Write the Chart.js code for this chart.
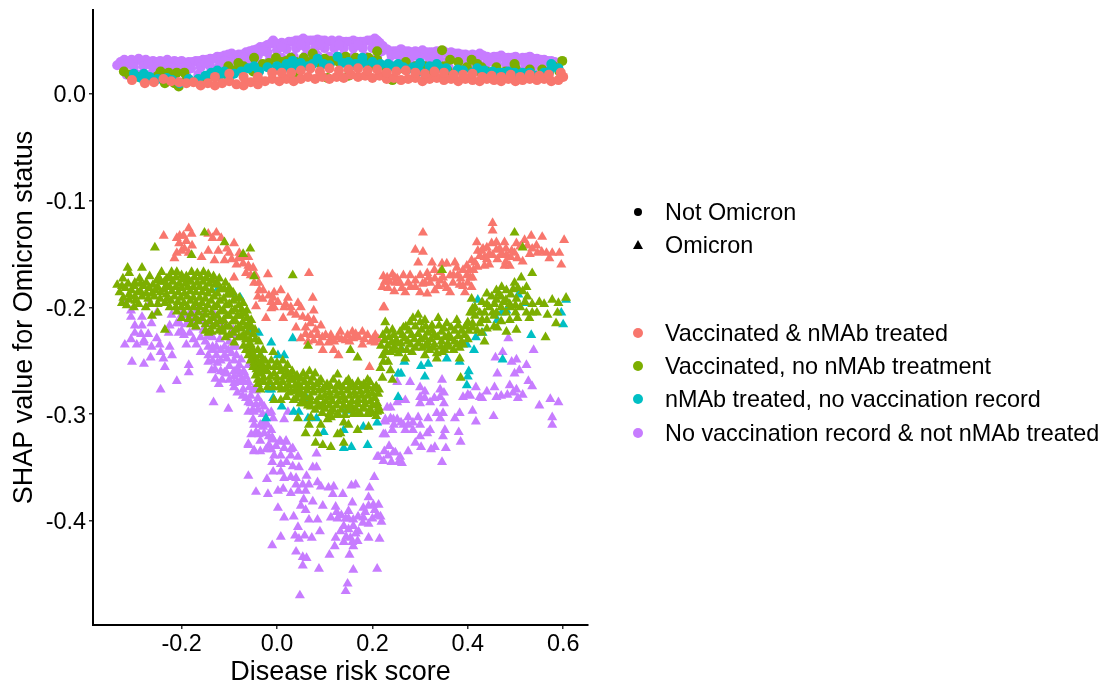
<!DOCTYPE html>
<html><head><meta charset="utf-8">
<script src="https://cdn.jsdelivr.net/npm/chart.js@4"></script>
<style>
html,body{margin:0;padding:0;background:#fff;width:1101px;height:684px;overflow:hidden}
#wrap{position:relative;width:1101px;height:684px}
canvas{position:absolute;left:0;top:0}
.lg{position:absolute;left:665px;font:23.4px "Liberation Sans",Arial,sans-serif;color:#000;line-height:30px;height:30px;white-space:nowrap}
.mk{position:absolute}
</style></head><body>
<div id="wrap"><canvas id="c" width="1101" height="684"></canvas></div>
<script>
const xTicks=[-0.2,0,0.2,0.4,0.6];
const yTicks=[0,-0.1,-0.2,-0.3,-0.4];
const shapeLabels=["Not Omicron","Omicron"];
const groupLabels=["Vaccinated & nMAb treated","Vaccinated, no nMAb treatment","nMAb treated, no vaccination record","No vaccination record & not nMAb treated"];

const circPurple=[[-.335,.027],[-.32,.032],[-.305,.032],[-.29,.033],[-.275,.032],[-.26,.031],[-.245,.031],[-.23,.032],[-.215,.031],[-.2,.031],[-.185,.03],[-.17,.031],[-.155,.032],[-.14,.033],[-.125,.035],[-.11,.036],[-.095,.038],[-.08,.037],[-.065,.039],[-.05,.041],[-.035,.044],[-.02,.046],[-.008,.05],[.01,.048],[.025,.049],[.04,.05],[.055,.052],[.07,.05],[.085,.051],[.1,.05],[.115,.05],[.13,.05],[.145,.049],[.16,.05],[.175,.049],[.19,.05],[.205,.052],[.215,.048],[.23,.042],[.245,.04],[.26,.042],[.275,.04],[.29,.04],[.305,.041],[.32,.039],[.335,.04],[.35,.04],[.365,.039],[.38,.038],[.395,.037],[.41,.037],[.425,.038],[.44,.035],[.455,.035],[.47,.036],[.485,.034],[.5,.035],[.515,.034],[.53,.035],[.545,.033],[.56,.032],[.575,.031],[.59,.029],
[-.328,.03],[-.312,.03],[-.297,.031],[-.283,.031],[-.268,.03],[-.252,.03],[-.237,.03],[-.222,.03],[-.207,.03],[-.192,.029],[-.177,.03],[-.162,.031],[-.147,.032],[-.132,.033],[-.117,.035],[-.102,.037],[-.087,.036],[-.072,.037],[-.057,.04],[-.042,.042],[-.027,.044],[-.014,.047],[0,.047],[.017,.047],[.032,.049],[.047,.05],[.062,.05],[.077,.05],[.092,.05],[.107,.049],[.122,.049],[.137,.049],[.152,.049],[.167,.049],[.182,.049],[.197,.05],[.21,.05],[.222,.045],[.237,.04],[.252,.04],[.267,.04],[.282,.039],[.297,.039],[.312,.039],[.327,.039],[.342,.039],[.357,.038],[.372,.038],[.387,.037],[.402,.036],[.417,.036],[.432,.036],[.447,.034],[.462,.035],[.477,.034],[.492,.034],[.507,.033],[.522,.034],[.537,.033],[.552,.032],[.567,.031],[.582,.03],
[-.32,.026],[-.3,.025],[-.28,.026],[-.26,.025],[-.24,.024],[-.22,.025],[-.2,.024],[-.18,.024],[-.16,.025],[-.14,.026],[-.12,.027],[-.1,.03],[-.08,.03],[-.06,.033],[-.04,.036],[-.02,.039],[0,.041],[.02,.042],[.04,.043],[.06,.044],[.08,.043],[.1,.043],[.12,.043],[.14,.043],[.16,.043],[.18,.043],[.2,.043],[.22,.04],[.24,.036],[.26,.035],[.28,.035],[.3,.034],[.32,.033],[.34,.033],[.36,.032],[.38,.032],[.4,.031],[.42,.031],[.44,.029],[.46,.029],[.48,.028],[.5,.028],[.52,.028],[.54,.027],[.56,.026],[.58,.026],
[-.31,.029],[-.27,.028],[-.23,.027],[-.19,.027],[-.15,.029],[-.11,.031],[-.07,.034],[-.03,.04],[.01,.044],[.05,.046],[.09,.046],[.13,.046],[.17,.046],[.21,.044],[.25,.037],[.29,.036],[.33,.035],[.37,.035],[.41,.033],[.45,.031],[.49,.031],[.53,.03],[.57,.028],
[-.315,.018],[-.29,.018],[-.265,.018],[-.24,.017],[-.215,.017],[-.19,.017],[-.165,.018],[-.14,.019],[-.115,.02],[-.09,.023],[-.065,.026],[-.04,.029],[-.015,.032],[.01,.034],[.035,.035],[.06,.036],[.085,.036],[.11,.035],[.135,.035],[.16,.035],[.185,.035],[.21,.034],[.235,.029],[.26,.028],[.285,.027],[.31,.026],[.335,.026],[.36,.025],[.385,.025],[.41,.024],[.435,.023],[.46,.022],[.485,.022],[.51,.021],[.535,.021],[.56,.021]];
const circGreen=[[-.321,.021],[-.244,.021],[-.227,.02],[-.21,.02],[-.194,.02],[-.235,.01],[-.206,.007],[-.127,.019],[-.102,.026],[-.081,.029],[-.048,.034],[-.05,.021],[-.017,.029],[-.002,.034],[.029,.034],[.019,.031],[.056,.034],[.075,.038],[.092,.028],[.113,.03],[.04,.017],[.106,.015],[.113,.031],[.144,.035],[.165,.034],[.192,.034],[.21,.04],[.21,.032],[.15,.017],[.242,.013],[.258,.024],[.31,.026],[.346,.041],[.363,.032],[.358,.022],[.408,.032],[.398,.025],[.429,.025],[.425,.021],[.44,.021],[.479,.021],[.498,.028],[.519,.017],[.556,.023],[.592,.021],[.598,.031],
[-.31,.018],[-.29,.016],[-.27,.014],[-.25,.017],[-.225,.014],[-.215,.01],[-.19,.013],[-.17,.012],[-.15,.015],[-.13,.016],[-.11,.019],[-.09,.022],[-.07,.026],[-.03,.028],[.01,.03],[.04,.03],[.07,.03],[.1,.033],[.13,.03],[.16,.03],[.185,.03],[.2,.027],[.23,.024],[.27,.03],[.29,.026],[.32,.022],[.35,.026],[.38,.03],[.42,.028],[.46,.025],[.5,.024],[.53,.023],[.58,.026]];
const circTeal=[[-.3,.019],[-.279,.019],[-.267,.016],[-.231,.015],[-.204,.01],[-.165,.014],[-.1375,.02],[-.121,.017],[-.11,.021],[-.1,.015],[-.06,.024],[-.0375,.021],[-.048,.026],[.0125,.024],[.029,.024],[.05,.029],[.033,.031],[.075,.028],[.085,.033],[.098,.028],[.127,.035],[.1375,.029],[.154,.026],[.179,.034],[.181,.029],[.217,.028],[.233,.028],[.254,.028],[.273,.023],[.3,.029],[.3,.021],[.335,.028],[.342,.024],[.379,.023],[.41,.02],[.452,.021],[.473,.02],[.498,.02],[.515,.02],[.544,.017],[.575,.028],[.571,.021],
[-.285,.015],[-.25,.014],[-.22,.013],[-.185,.014],[-.15,.017],[-.125,.022],[-.09,.019],[-.075,.021],[-.02,.025],[0,.026],[.02,.028],[.045,.025],[.065,.026],[.11,.027],[.15,.03],[.165,.028],[.2,.03],[.24,.026],[.265,.025],[.285,.025],[.32,.026],[.355,.024],[.39,.022],[.42,.024],[.435,.022],[.465,.02],[.485,.021],[.53,.02],[.56,.02],[.59,.024]];
const circSalmon=[[-.304,.013],[-.277,.01],[-.258,.011],[-.238,.014],[-.222,.012],[-.205,.011],[-.19,.01],[-.175,.011],[-.16,.008],[-.145,.01],[-.13,.008],[-.115,.01],[-.1,.012],[-.085,.009],[-.07,.008],[-.055,.011],[-.04,.009],[-.025,.012],[-.01,.014],[.005,.012],[.02,.014],[.035,.012],[.05,.014],[.065,.016],[.08,.014],[.095,.016],[.11,.014],[.125,.016],[.14,.015],[.155,.018],[.17,.016],[.185,.017],[.2,.015],[.215,.017],[.23,.014],[.245,.015],[.26,.013],[.275,.014],[.29,.015],[.305,.012],[.32,.014],[.335,.015],[.35,.013],[.365,.014],[.38,.012],[.395,.014],[.41,.013],[.425,.012],[.44,.014],[.455,.013],[.47,.012],[.485,.014],[.5,.012],[.515,.013],[.53,.014],[.545,.013],[.56,.014],[.575,.012],[.59,.013],[.6,.016],
[-.13,.016],[-.1,.019],[-.07,.016],[-.04,.016],[-.01,.02],[.01,.02],[.03,.02],[.05,.022],[.07,.024],[.09,.021],[.11,.024],[.13,.022],[.15,.023],[.17,.024],[.19,.022],[.21,.023],[.23,.02],[.25,.021],[.27,.022],[.29,.02],[.31,.019],[.33,.021],[.35,.02],[.37,.018],[.39,.018],[.41,.019],[.43,.016],[.45,.017],[.47,.016],[.49,.018],[.51,.016],[.53,.018],[.55,.017],[.57,.018],[.595,.02]];

const triSalmon=[[-.2375,-.133],[-.185,-.126],[-.196,-.133],[-.21,-.135],[-.204,-.133],[-.179,-.131],[-.144,-.131],[-.127,-.13],[-.117,-.135],[-.09,-.14],[-.194,-.145],[-.185,-.149],[-.21,-.149],[-.215,-.154],[-.158,-.153],[-.144,-.147],[-.123,-.147],[-.131,-.156],[-.11,-.156],[-.1,-.149],[-.079,-.149],[-.081,-.154],[-.06,-.153],[-.071,-.159],[-.06,-.161],[-.05,-.163],[-.019,-.169],[-.09,-.172],[-.133,-.172],[-.048,-.177],[-.038,-.177],[-.029,-.184],[-.017,-.189],[-.044,-.199],[-.023,-.21],[-.012,-.201],
[-.058,-.163],[-.037,-.184],[.067,-.168],[-.006,-.186],[.008,-.184],[-.008,-.191],[.023,-.191],[-.006,-.2],[.013,-.21],[.044,-.196],[.029,-.2],[.075,-.191],[.077,-.203],[.04,-.207],[.054,-.209],[.077,-.212],[.04,-.219],[.06,-.219],[.081,-.221],[.05,-.229],[.077,-.231],[.102,-.226],[.113,-.226],[.127,-.228],[.148,-.226],[.16,-.229],[.171,-.228],[.19,-.226],[.206,-.226],[.113,-.231],[.096,-.24],[.119,-.24],[.129,-.245],[.144,-.231],[.179,-.235],[.206,-.233],[.194,-.256],[.223,-.2],[.092,-.217],[.071,-.226],[.133,-.223],[.158,-.223],[.179,-.223],
[.306,-.13],[.452,-.121],[.452,-.128],[.29,-.146],[.306,-.148],[.296,-.158],[.223,-.171],[.242,-.169],[.252,-.173],[.265,-.17],[.221,-.181],[.233,-.182],[.246,-.185],[.269,-.186],[.275,-.177],[.3,-.17],[.315,-.168],[.325,-.158],[.346,-.159],[.356,-.159],[.373,-.158],[.377,-.163],[.321,-.177],[.3,-.186],[.315,-.187],[.331,-.184],[.363,-.17],[.369,-.177],[.363,-.186],[.398,-.17],[.394,-.186],[.383,-.179],[.4,-.177],[.398,-.161],[.408,-.156],[.419,-.139],[.421,-.147],[.435,-.153],[.435,-.161],[.452,-.151],[.45,-.14],[.46,-.139],[.477,-.139],[.467,-.145],[.481,-.151],[.502,-.14],[.498,-.149],[.504,-.154],[.477,-.161],[.488,-.161],[.519,-.137],[.533,-.133],[.556,-.134],[.544,-.142],[.546,-.149],[.565,-.149],[.577,-.149],[.592,-.149],[.571,-.154],[.602,-.137],[.596,-.16],[.225,-.2],[.202,-.229],
[.248,-.177],[.29,-.175],[.342,-.175],[.342,-.167],[.352,-.179],[.331,-.173],[.379,-.17],[.31,-.177],[.279,-.17],[.231,-.172],[.404,-.165],[.415,-.158],[.429,-.147],[.44,-.144],[.473,-.151],[.492,-.147],
[.226,-.176],[.236,-.176],[.247,-.172],[.258,-.177],[.262,-.182],[.28,-.181],[.29,-.181],[.305,-.178],[.318,-.172],[.33,-.165],[.338,-.18],[.348,-.172],[.356,-.182],[.37,-.17],[.385,-.173],[.39,-.165],[.39,-.18],[.405,-.172],[.408,-.181],[.412,-.165],[.425,-.152],[.432,-.145],[.44,-.155],[.445,-.15],[.46,-.146],[.47,-.15],[.48,-.145],[.49,-.153],[.51,-.143],[.515,-.157],[.48,-.157],[.462,-.155],[.445,-.16],[.42,-.162],[.41,-.172],[.525,-.142],[.535,-.145],[.53,-.15],[.555,-.148],
[-.205,-.14],[-.19,-.138],[-.2,-.147],[-.178,-.142],[-.135,-.135],[-.105,-.145],[-.095,-.155],[-.085,-.16],[-.07,-.153],[-.065,-.168],[-.055,-.17],[-.045,-.17],[-.04,-.19],[-.03,-.192],[-.012,-.195],[.002,-.195],[.018,-.197],[.03,-.205],[.015,-.2],[.05,-.2],[.065,-.21],[.06,-.225],[.07,-.215],[.085,-.226],[.095,-.228],[.108,-.233],[.12,-.232],[.135,-.23],[.152,-.232],[.165,-.225],[.183,-.23],[.197,-.232],[.212,-.23],[.09,-.233],[.065,-.232]];

const triGreen=[[-.256,-.144],[-.313,-.163],[-.283,-.163],[-.152,-.13],[-.11,-.139],[-.056,-.145],[-.179,-.151],[-.071,-.15],
[-.335,-.179],[-.323,-.173],[-.31,-.168],[-.298,-.177],[-.288,-.173],[-.267,-.171],[-.252,-.175],[-.242,-.167],[-.231,-.173],[-.221,-.167],[-.21,-.167],[-.2,-.17],[-.19,-.171],[-.179,-.167],[-.167,-.168],[-.154,-.167],[-.144,-.169],[-.133,-.171],[-.121,-.173],[-.108,-.177],[-.1,-.182],[-.092,-.186],[-.079,-.191],[-.071,-.196],[-.063,-.203],[-.054,-.212],[-.046,-.221],[-.038,-.232],[-.029,-.24],
[-.33,-.186],[-.318,-.182],[-.305,-.184],[-.292,-.186],[-.28,-.18],[-.268,-.182],[-.255,-.184],[-.243,-.176],[-.23,-.18],[-.218,-.176],[-.205,-.178],[-.192,-.178],[-.18,-.176],[-.167,-.177],[-.155,-.176],[-.142,-.178],[-.13,-.179],[-.117,-.183],[-.104,-.188],[-.092,-.194],[-.08,-.198],[-.068,-.206],[-.058,-.215],[-.05,-.225],[-.04,-.24],[-.03,-.25],
[-.325,-.196],[-.31,-.193],[-.297,-.194],[-.283,-.19],[-.27,-.192],[-.257,-.19],[-.244,-.186],[-.232,-.188],[-.22,-.185],[-.207,-.186],[-.194,-.187],[-.182,-.185],[-.17,-.186],[-.157,-.186],[-.145,-.187],[-.132,-.19],[-.12,-.194],[-.107,-.198],[-.095,-.204],[-.083,-.208],[-.072,-.214],[-.062,-.224],[-.055,-.235],[-.047,-.246],[-.038,-.256],[-.025,-.258],
[-.3,-.2],[-.275,-.2],[-.25,-.197],[-.235,-.196],[-.222,-.194],[-.208,-.195],[-.195,-.196],[-.182,-.194],[-.17,-.196],[-.157,-.196],[-.145,-.198],[-.132,-.2],[-.118,-.204],[-.105,-.208],[-.092,-.213],[-.08,-.218],[-.07,-.226],[-.06,-.236],[-.052,-.247],[-.043,-.258],
[-.262,-.208],[-.21,-.204],[-.195,-.205],[-.18,-.206],[-.165,-.205],[-.15,-.207],[-.135,-.21],[-.12,-.213],[-.107,-.218],[-.092,-.224],[-.08,-.228],[-.07,-.236],[-.06,-.245],[-.05,-.256],
[-.18,-.216],[-.165,-.213],[-.15,-.216],[-.135,-.218],[-.122,-.222],[-.108,-.228],[-.09,-.233],[-.137,-.223],[-.235,-.221],[-.144,-.224],[-.113,-.223],
[-.325,-.18],[-.312,-.178],[-.3,-.18],[-.286,-.178],[-.274,-.177],[-.26,-.179],[-.248,-.172],[-.236,-.176],[-.224,-.172],[-.212,-.172],[-.198,-.174],[-.186,-.174],[-.173,-.172],[-.16,-.172],[-.148,-.173],[-.136,-.175],[-.124,-.178],[-.11,-.183],[-.098,-.188],[-.086,-.192],[-.074,-.202],[-.062,-.21],[-.053,-.219],[-.045,-.23],[-.035,-.245],
[-.322,-.191],[-.31,-.188],[-.298,-.19],[-.286,-.185],[-.274,-.187],[-.262,-.187],[-.25,-.181],[-.237,-.183],[-.225,-.181],[-.212,-.181],[-.2,-.182],[-.187,-.181],[-.175,-.181],[-.162,-.181],[-.15,-.182],[-.137,-.184],[-.125,-.187],[-.112,-.192],[-.1,-.197],[-.088,-.202],[-.076,-.208],[-.065,-.218],[-.057,-.23],[-.05,-.24],[-.042,-.25],[-.03,-.255],
[-.315,-.198],[-.29,-.197],[-.265,-.197],[-.245,-.192],[-.23,-.192],[-.215,-.19],[-.202,-.191],[-.188,-.19],[-.175,-.191],[-.162,-.191],[-.15,-.192],[-.138,-.194],[-.125,-.198],[-.112,-.203],[-.1,-.208],[-.087,-.213],[-.075,-.22],[-.065,-.23],[-.056,-.241],[-.048,-.252],[-.035,-.262],
[-.25,-.205],[-.225,-.2],[-.212,-.2],[-.2,-.2],[-.187,-.2],[-.175,-.2],[-.162,-.2],[-.15,-.202],[-.137,-.205],[-.125,-.208],[-.112,-.212],[-.1,-.218],[-.087,-.221],[-.075,-.228],[-.065,-.24],[-.055,-.25],
[-.2,-.21],[-.185,-.211],[-.17,-.21],[-.157,-.21],[-.142,-.213],[-.128,-.216],[-.115,-.22],[-.1,-.226],[-.17,-.218],[-.15,-.222],
[-.045,-.256],[-.035,-.252],[-.025,-.25],[-.012,-.25],[0,-.252],[.012,-.25],[.022,-.254],[.032,-.26],[.042,-.264],[.055,-.262],[.068,-.26],[.08,-.262],[.092,-.268],[.105,-.272],[.118,-.268],[.13,-.272],[.145,-.27],[.158,-.272],[.17,-.27],[.182,-.272],[.195,-.27],[.208,-.274],
[-.045,-.264],[-.033,-.262],[-.02,-.26],[-.006,-.262],[.008,-.26],[.02,-.263],[.032,-.268],[.045,-.272],[.058,-.27],[.07,-.27],[.083,-.272],[.096,-.277],[.11,-.28],[.122,-.278],[.135,-.28],[.148,-.278],[.162,-.28],[.175,-.279],[.188,-.278],[.2,-.281],[.212,-.281],
[-.04,-.272],[-.028,-.27],[-.015,-.27],[0,-.27],[.012,-.27],[.025,-.273],[.038,-.278],[.05,-.28],[.063,-.278],[.076,-.28],[.09,-.284],[.103,-.288],[.116,-.288],[.13,-.288],[.143,-.287],[.157,-.288],[.17,-.287],[.183,-.287],[.196,-.288],[.21,-.29],
[.01,-.277],[.025,-.28],[.04,-.285],[.055,-.287],[.07,-.288],[.085,-.293],[.1,-.295],[.118,-.296],[.135,-.296],[.15,-.296],[.165,-.295],[.18,-.295],[.195,-.296],[.21,-.298],
[-.04,-.26],[-.03,-.257],[-.018,-.255],[-.005,-.256],[.006,-.256],[.018,-.258],[.028,-.263],[.037,-.266],[.05,-.267],[.062,-.265],[.075,-.266],[.088,-.27],[.1,-.275],[.112,-.274],[.125,-.274],[.138,-.275],[.152,-.275],[.165,-.275],[.177,-.274],[.19,-.274],[.202,-.276],[.214,-.277],
[-.04,-.268],[-.028,-.266],[-.014,-.265],[0,-.266],[.014,-.265],[.026,-.268],[.038,-.273],[.05,-.275],[.064,-.274],[.076,-.275],[.088,-.278],[.1,-.283],[.112,-.284],[.125,-.283],[.138,-.284],[.152,-.283],[.165,-.283],[.178,-.283],[.19,-.283],[.205,-.285],
[-.035,-.277],[-.02,-.275],[-.008,-.275],[.005,-.275],[.018,-.276],[.03,-.279],[.045,-.282],[.058,-.283],[.07,-.284],[.083,-.288],[.096,-.291],[.11,-.292],[.125,-.292],[.14,-.292],[.155,-.292],[.17,-.291],[.185,-.291],[.2,-.292],[.213,-.294],
[.02,-.284],[.035,-.287],[.05,-.29],[.065,-.292],[.08,-.296],[.095,-.299],[.11,-.3],[.127,-.3],[.143,-.301],[.16,-.3],[.175,-.3],[.19,-.3],[.208,-.302],[.215,-.297],
[.067,-.31],[.06,-.318],[.085,-.318],[.092,-.31],[.081,-.327],[.096,-.329],[.113,-.331],[.127,-.319],[.14,-.308],[.15,-.31],[.169,-.315],[.192,-.312],[.14,-.327],[.133,-.318],[.044,-.304],[.071,-.293],[.092,-.293],[.113,-.303],[.129,-.301],[.169,-.299],[.2,-.299],[.181,-.294],[-.006,-.287],[.008,-.287],[.127,-.263],[.15,-.268],[.19,-.268],[.065,-.236],[.154,-.24],[.169,-.247],[-.008,-.242],[.033,-.17],[-.048,-.171],[.113,-.298],[.098,-.293],[.106,-.305],[.154,-.296],[.071,-.303],[.054,-.29],[.15,-.293],
[.227,-.214],[.242,-.221],[.265,-.219],[.279,-.214],[.296,-.207],[.31,-.212],[.325,-.217],[.338,-.21],[.356,-.215],[.377,-.212],[.4,-.214],[.415,-.208],
[.222,-.226],[.235,-.228],[.25,-.231],[.263,-.226],[.277,-.222],[.29,-.218],[.303,-.221],[.316,-.224],[.33,-.226],[.345,-.223],[.36,-.226],[.373,-.222],[.387,-.222],[.402,-.222],
[.218,-.236],[.232,-.236],[.246,-.237],[.26,-.234],[.274,-.232],[.288,-.23],[.302,-.23],[.316,-.233],[.33,-.235],[.345,-.232],[.358,-.234],[.372,-.232],[.387,-.232],[.4,-.23],
[.222,-.245],[.238,-.242],[.255,-.243],[.272,-.24],[.29,-.238],[.305,-.238],[.32,-.24],[.335,-.243],[.352,-.24],[.37,-.24],[.383,-.238],
[.23,-.222],[.245,-.226],[.258,-.223],[.27,-.218],[.285,-.21],[.3,-.214],[.312,-.218],[.325,-.222],[.34,-.217],[.35,-.22],[.365,-.219],[.38,-.217],[.395,-.218],[.41,-.219],
[.225,-.231],[.24,-.233],[.253,-.233],[.268,-.229],[.282,-.226],[.296,-.225],[.31,-.228],[.323,-.23],[.337,-.228],[.352,-.228],[.365,-.229],[.38,-.227],[.393,-.226],
[.228,-.241],[.245,-.24],[.26,-.239],[.28,-.235],[.297,-.234],[.312,-.236],[.328,-.238],[.344,-.237],[.36,-.237],[.378,-.235],[.39,-.235],
[.223,-.251],[.238,-.259],[.221,-.266],[.242,-.268],[.269,-.248],[.31,-.245],[.335,-.248],[.383,-.248],[.385,-.266],[.283,-.242],[.346,-.242],[.217,-.257],[.233,-.251],[.227,-.242],
[.408,-.192],[.41,-.201],[.44,-.187],[.471,-.181],[.46,-.184],[.481,-.184],[.498,-.177],[.512,-.172],[.535,-.168],[.523,-.181],[.502,-.192],[.488,-.197],[.456,-.197],[.435,-.205],[.452,-.205],[.488,-.212],[.504,-.21],[.529,-.21],[.523,-.205],[.535,-.197],[.55,-.195],[.577,-.193],[.567,-.207],[.588,-.205],[.606,-.191],[.585,-.215],[.462,-.219],[.481,-.223],[.502,-.221],[.563,-.228],[.435,-.232],[.429,-.224],[.425,-.215],[.498,-.13],[.515,-.144],[.346,-.165],
[.415,-.2],[.425,-.205],[.44,-.197],[.45,-.19],[.46,-.193],[.47,-.19],[.48,-.193],[.49,-.188],[.47,-.2],[.455,-.208],[.44,-.212],[.52,-.195],[.51,-.2],[.5,-.205],[.48,-.205],[.47,-.213],[.455,-.218],[.545,-.205],[.56,-.197],[.59,-.196],[.41,-.215],[.42,-.222],
[.405,-.205],[.43,-.195],[.445,-.2],[.465,-.187],[.475,-.195],[.49,-.2],[.495,-.183],[.505,-.182],[.515,-.185],[.525,-.19],[.535,-.205],[.5,-.198],[.46,-.205],[.43,-.212],[.44,-.22],[.41,-.205]];

const triTeal=[[-.123,-.182],[-.096,-.187],[-.077,-.191],[-.058,-.221],[-.038,-.224],[-.035,-.245],[-.012,-.233],[-.017,-.277],[.033,-.229],[.002,-.245],[.015,-.245],[-.012,-.277],[-.008,-.285],[.01,-.293],[.062,-.285],[.035,-.298],[.046,-.298],[.065,-.304],[.083,-.304],[.146,-.297],[-.023,-.304],[.098,-.317],[.14,-.332],[.156,-.331],[.19,-.329],[.14,-.315],[.181,-.312],[.21,-.308],[.254,-.284],[.254,-.262],[.262,-.24],[.267,-.251],[.26,-.262],[.315,-.236],[.317,-.253],[.302,-.255],[.31,-.265],[.356,-.248],[.383,-.251],[.402,-.26],[.4,-.265],[.398,-.273],[.413,-.24],[.417,-.228],[.398,-.235],[.431,-.224],[.462,-.212],[.421,-.193],[.506,-.188],[.519,-.196],[.481,-.203],[.471,-.205],[.473,-.249],[.533,-.226],[.6,-.216],[.606,-.193],[.596,-.205]];

const triPurple=[[-.321,-.193],[-.306,-.203],[-.306,-.209],[-.267,-.197],[-.283,-.209],[-.298,-.217],[-.283,-.217],[-.263,-.215],[-.252,-.205],[-.298,-.224],[-.306,-.23],[-.279,-.231],[-.319,-.235],[-.294,-.235],[-.279,-.233],[-.263,-.237],[-.252,-.229],[-.246,-.235],[-.225,-.237],[-.227,-.224],[-.206,-.224],[-.225,-.217],[-.204,-.215],[-.221,-.207],[-.185,-.207],[-.2,-.207],[-.169,-.203],[-.154,-.205],[-.131,-.207],[-.169,-.219],[-.19,-.235],[-.169,-.235],[-.183,-.224],[-.154,-.221],[-.11,-.214],[-.127,-.215],[-.265,-.247],[-.244,-.242],[-.238,-.248],[-.304,-.251],[-.279,-.253],[-.235,-.256],[-.185,-.254],[-.185,-.261],[-.21,-.269],[-.244,-.277],[-.133,-.289],[-.102,-.295],[-.129,-.267],[-.137,-.259],[-.11,-.261],[-.144,-.251],[-.144,-.245],[-.127,-.245],[-.11,-.245],[-.144,-.237],[-.127,-.237],[-.11,-.237],[-.092,-.237],[-.092,-.221],[-.085,-.245],[-.079,-.254],[-.06,-.254],[-.079,-.263],[-.069,-.27],[-.09,-.275],[-.071,-.277],[-.05,-.277],[-.06,-.289],[-.044,-.291],[-.027,-.293],[-.06,-.298],[-.012,-.298],
[-.2,-.222],[-.19,-.216],[-.17,-.212],[-.16,-.228],[-.14,-.215],[-.12,-.23],[-.1,-.232],[-.135,-.228],[-.125,-.252],[-.118,-.26],[-.1,-.255],[-.09,-.26],[-.1,-.268],[-.115,-.268],[-.09,-.25],[-.07,-.26],[-.065,-.285],[-.052,-.297],
[-.09,-.226],[-.085,-.237],[-.075,-.249],[-.069,-.261],[-.075,-.268],[-.09,-.271],[-.058,-.275],[-.044,-.278],[-.033,-.29],[-.04,-.296],[-.019,-.299],[-.008,-.304],[.023,-.298],[.015,-.305],[-.027,-.308],[-.044,-.317],[-.027,-.318],[-.012,-.315],[-.008,-.324],[.008,-.326],[.019,-.326],[.029,-.333],[-.012,-.333],[-.048,-.335],[-.06,-.329],
[.231,-.294],[.238,-.304],[.252,-.27],[.244,-.305],[.227,-.319],[.21,-.34],[.244,-.336],[.258,-.287],[.227,-.305],
[-.048,-.31],[-.029,-.312],[-.054,-.319],[-.038,-.319],[-.017,-.321],[-.06,-.328],[-.017,-.329],[-.048,-.334],[-.023,-.333],[.006,-.325],[.019,-.325],[.033,-.332],[-.006,-.339],[.008,-.339],[.029,-.339],[.044,-.34],[.083,-.337],[.008,-.347],[-.008,-.354],[.008,-.354],[-.021,-.361],[-.06,-.358],[.033,-.349],[.046,-.35],[.075,-.35],[.083,-.35],[.029,-.359],[.062,-.358],[.04,-.366],[.054,-.366],[.067,-.366],[.085,-.364],[.092,-.368],[.108,-.369],[.119,-.368],[.156,-.367],[.165,-.366],[.194,-.369],[.204,-.359],[-.044,-.373],[-.019,-.375],[.002,-.372],[.013,-.37],[.029,-.374],[.117,-.375],[.138,-.375],[.192,-.378],[.056,-.38],[.075,-.382],[.05,-.386],[.158,-.383],[.202,-.385],[.192,-.386],[.213,-.385],[.181,-.388],[.096,-.386],[.123,-.387],[.002,-.388],[.06,-.39],[.15,-.391],[.035,-.396],[.015,-.397],[.067,-.399],[.085,-.399],[.113,-.397],[.127,-.398],[.144,-.398],[.16,-.399],[.181,-.397],[.2,-.398],[.217,-.396],[.219,-.401],[.192,-.403],[.044,-.406],[.133,-.41],[.15,-.408],[.171,-.41],[.09,-.41],[.008,-.415],[.038,-.414],[.046,-.417],[.058,-.414],[.073,-.416],[.123,-.416],[.154,-.416],[.192,-.416],[.215,-.417],[-.01,-.423],[.14,-.42],[.121,-.424],[.16,-.424],[.169,-.419],[.04,-.429],[.054,-.434],[.062,-.435],[.054,-.442],[.11,-.432],[.152,-.432],[.088,-.445],[.16,-.446],[.21,-.445],[.148,-.459],[.144,-.466],[.048,-.47],
[.485,-.229],[.473,-.242],[.538,-.24],[.458,-.247],[.492,-.251],[.502,-.249],[.523,-.254],[.508,-.259],[.498,-.262],[.462,-.262],[.527,-.269],[.488,-.273],[.535,-.274],[.502,-.277],[.515,-.282],[.456,-.275],[.44,-.279],[.417,-.275],[.425,-.284],[.4,-.282],[.39,-.284],[.46,-.284],[.483,-.282],[.55,-.292],[.573,-.286],[.59,-.289],[.577,-.303],[.577,-.31],[.454,-.302],[.417,-.307],[.41,-.297],[.383,-.299],[.373,-.304],[.348,-.299],[.335,-.299],[.342,-.304],[.317,-.304],[.346,-.268],[.342,-.277],[.3,-.275],[.279,-.27],[.3,-.284],[.321,-.289],[.342,-.284],[.31,-.279],[.269,-.287],[.252,-.289],[.238,-.294],[.227,-.307],[.252,-.305],[.275,-.303],[.296,-.303],[.265,-.31],[.285,-.308],[.242,-.315],[.223,-.319],[.269,-.315],[.3,-.321],[.321,-.315],[.315,-.318],[.352,-.315],[.348,-.321],[.381,-.317],[.385,-.326],[.354,-.332],[.331,-.331],[.323,-.333],[.302,-.331],[.29,-.327],[.275,-.335],[.248,-.336],[.233,-.339],[.258,-.34],[.213,-.34],[.223,-.344],[.262,-.346],[.346,-.345],
[-.135,-.24],[-.118,-.24],[-.102,-.24],[-.135,-.25],[-.118,-.25],[-.105,-.248],[-.095,-.243],[-.13,-.258],[-.105,-.262],[-.122,-.272],[-.09,-.265],[-.082,-.258],[-.083,-.27],[-.072,-.283],[-.083,-.28],[-.06,-.27],[-.065,-.265],[-.055,-.283],[-.055,-.29],[-.048,-.298],[-.04,-.285],[-.03,-.3],[-.05,-.305],[-.285,-.225],[-.21,-.215],[-.195,-.226],[-.178,-.212],[-.16,-.213],[-.145,-.227],[-.175,-.23],[-.15,-.232],[-.16,-.242],[-.135,-.237],[-.22,-.245],[-.27,-.225],[-.035,-.31],[-.02,-.31],[-.01,-.322],[-.035,-.325],[-.035,-.335],[-.002,-.33],[.015,-.332],[-.01,-.345],[.02,-.345],[.04,-.36],[.045,-.372],[.06,-.372],[.015,-.36],[.125,-.392],[.135,-.395],[.15,-.398],[.17,-.396],[.185,-.392],[.205,-.39],[.16,-.405],[.18,-.402],[.21,-.395],[.14,-.405],[.165,-.412],[.145,-.415],[.158,-.42],[.3,-.29],[.31,-.285],[.33,-.285],[.35,-.29],[.35,-.28],[.505,-.285],[.47,-.283],[.495,-.28],[.43,-.285],[.405,-.283],[.245,-.31],[.26,-.308],[.275,-.31],[.3,-.31],[.285,-.315],[.235,-.33],[.225,-.335],[.255,-.345],[.24,-.345]];

const SALMON="#F8766D",GREEN="#7CAE00",TEAL="#00BFC4",PURPLE="#C77CFF";
const toPts=a=>a.map(p=>({x:p[0],y:p[1]}));
function set(name,arr,color,style,order){
  return {label:name,data:toPts(arr),backgroundColor:color,pointStyle:style,
    pointRadius:style==="circle"?5:5.8,pointBorderWidth:0,pointHoverRadius:0,order:order};
}
new Chart(document.getElementById("c"),{
  type:"scatter",
  data:{datasets:[
    set("circ salmon",circSalmon,SALMON,"circle",1),
    set("circ teal",circTeal,TEAL,"circle",2),
    set("circ green",circGreen,GREEN,"circle",3),
    set("circ purple",circPurple,PURPLE,"circle",4),
    set("tri green",triGreen,GREEN,"triangle",5),
    set("tri salmon",triSalmon,SALMON,"triangle",6),
    set("tri teal",triTeal,TEAL,"triangle",7),
    set("tri purple",triPurple,PURPLE,"triangle",8)
  ]},
  options:{
    responsive:false,animation:false,devicePixelRatio:1,
    layout:{padding:{left:0,right:513,top:10,bottom:0}},
    plugins:{legend:{display:false},tooltip:{enabled:false}},
    scales:{
      x:{type:"linear",min:-0.3857,max:0.652,
        border:{display:true,color:"#000",width:2},
        grid:{drawOnChartArea:false,drawTicks:true,tickLength:4,color:"#333",lineWidth:1.5},
        afterBuildTicks:s=>{s.ticks=xTicks.map(v=>({value:v}));},
        ticks:{color:"#000",padding:2,font:{family:"Liberation Sans",size:23.4},maxRotation:0,autoSkip:false,callback:v=>v.toFixed(1)},
        title:{display:true,text:"Disease risk score",color:"#000",font:{family:"Liberation Sans",size:27},padding:{top:0,bottom:-5}},
        afterFit:s=>{s.height=59;s.paddingLeft=0;s.paddingRight=0;}
      },
      y:{type:"linear",min:-0.4977,max:0.0787,
        border:{display:true,color:"#000",width:2},
        grid:{drawOnChartArea:false,drawTicks:true,tickLength:4,color:"#333",lineWidth:1.5},
        afterBuildTicks:s=>{s.ticks=yTicks.map(v=>({value:v}));},
        ticks:{color:"#000",padding:3,labelOffset:2,font:{family:"Liberation Sans",size:23.4},autoSkip:false,callback:v=>v.toFixed(1)},
        title:{display:true,text:"SHAP value for Omicron status",color:"#000",font:{family:"Liberation Sans",size:27},padding:{top:8,bottom:0}},
        afterFit:s=>{s.width=93;s.paddingTop=0;s.paddingBottom=0;}
      }
    }
  }
});
const wrap=document.getElementById("wrap");
function addText(t,y){const d=document.createElement("div");d.className="lg";d.style.top=(y-15)+"px";d.textContent=t;wrap.appendChild(d);}
function addMark(kind,color,y){
  const m=document.createElement("div");m.className="mk";m.style.background=color;
  if(kind==="circle"){const s=color==="#000"?8:10;m.style.cssText+=`width:${s}px;height:${s}px;border-radius:50%;left:${638-s/2}px;top:${y-s/2}px`;}
  else{m.style.cssText+=`width:10px;height:9px;left:633px;top:${y-5}px;clip-path:polygon(50% 0,100% 100%,0 100%)`;}
  wrap.appendChild(m);
}
const shapeRows=[212,245],groupRows=[333,366,399,433];
shapeLabels.forEach((t,i)=>{addText(t,shapeRows[i]);addMark(i?"triangle":"circle","#000",shapeRows[i]);});
const groupColors=[SALMON,GREEN,TEAL,PURPLE];
groupLabels.forEach((t,i)=>{addText(t,groupRows[i]);addMark("circle",groupColors[i],groupRows[i]);});
</script>
</body></html>
